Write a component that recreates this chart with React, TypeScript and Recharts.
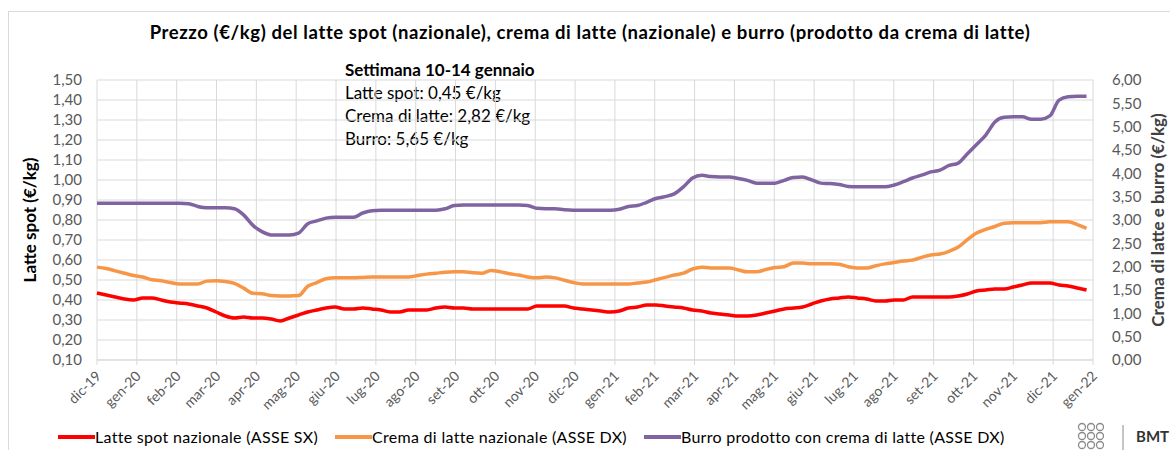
import { CartesianGrid, Line, LineChart, XAxis, YAxis } from "recharts";

const MONTHS = [
  "dic-19", "gen-20", "feb-20", "mar-20", "apr-20", "mag-20", "giu-20", "lug-20", "ago-20",
  "set-20", "ott-20", "nov-20", "dic-20", "gen-21", "feb-21", "mar-21", "apr-21", "mag-21",
  "giu-21", "lug-21", "ago-21", "set-21", "ott-21", "nov-21", "dic-21", "gen-22",
];

// weekly prices, first week of Dec 2019 -> 10-14 Jan 2022
const LATTE = [
  0.435, 0.425, 0.415, 0.405, 0.4, 0.41, 0.41, 0.4, 0.39, 0.385,
  0.38, 0.37, 0.36, 0.34, 0.32, 0.31, 0.315, 0.31, 0.31, 0.305,
  0.295, 0.31, 0.325, 0.34, 0.35, 0.36, 0.365, 0.355, 0.355, 0.36,
  0.355, 0.35, 0.34, 0.34, 0.35, 0.35, 0.35, 0.36, 0.365, 0.36,
  0.36, 0.355, 0.355, 0.355, 0.355, 0.355, 0.355, 0.355, 0.37, 0.37,
  0.37, 0.37, 0.36, 0.355, 0.35, 0.345, 0.34, 0.345, 0.36, 0.365,
  0.375, 0.375, 0.37, 0.365, 0.36, 0.35, 0.345, 0.335, 0.33, 0.325,
  0.32, 0.32, 0.325, 0.335, 0.345, 0.355, 0.36, 0.365, 0.38, 0.395,
  0.405, 0.41, 0.415, 0.41, 0.405, 0.395, 0.395, 0.4, 0.4, 0.415,
  0.415, 0.415, 0.415, 0.415, 0.42, 0.43, 0.445, 0.45, 0.455, 0.455,
  0.465, 0.475, 0.485, 0.485, 0.485, 0.475, 0.47, 0.46, 0.45,
];

const CREMA = [
  1.99, 1.96, 1.91, 1.86, 1.81, 1.78, 1.72, 1.7, 1.66, 1.63,
  1.63, 1.63, 1.69, 1.7, 1.68, 1.64, 1.54, 1.43, 1.42, 1.38,
  1.37, 1.37, 1.38, 1.58, 1.66, 1.74, 1.76, 1.76, 1.76, 1.77,
  1.78, 1.78, 1.78, 1.78, 1.78, 1.81, 1.84, 1.86, 1.88, 1.89,
  1.89, 1.87, 1.86, 1.92, 1.89, 1.85, 1.82, 1.78, 1.76, 1.78,
  1.76, 1.71, 1.66, 1.63, 1.63, 1.63, 1.63, 1.63, 1.63, 1.65,
  1.67, 1.72, 1.77, 1.82, 1.86, 1.95, 1.99, 1.97, 1.97, 1.97,
  1.93, 1.89, 1.89, 1.94, 1.98, 2.0, 2.08, 2.08, 2.06, 2.06,
  2.06, 2.05, 2.0, 1.97, 1.97, 2.02, 2.06, 2.09, 2.12, 2.14,
  2.2, 2.25, 2.27, 2.33, 2.42, 2.58, 2.72, 2.8, 2.86, 2.93,
  2.94, 2.94, 2.94, 2.94, 2.96, 2.96, 2.96, 2.9, 2.82,
];

const BURRO = [
  3.36, 3.36, 3.36, 3.36, 3.36, 3.36, 3.36, 3.36, 3.36, 3.36,
  3.35, 3.29, 3.26, 3.26, 3.26, 3.24, 3.11, 2.89, 2.75, 2.68,
  2.68, 2.68, 2.72, 2.92, 2.98, 3.04, 3.06, 3.06, 3.06, 3.15,
  3.2, 3.21, 3.21, 3.21, 3.21, 3.21, 3.21, 3.21, 3.24, 3.31,
  3.32, 3.32, 3.32, 3.32, 3.32, 3.32, 3.32, 3.31, 3.25, 3.24,
  3.24, 3.22, 3.21, 3.21, 3.21, 3.21, 3.21, 3.23, 3.29, 3.31,
  3.38, 3.46, 3.5, 3.56, 3.71, 3.9, 3.96, 3.93, 3.92, 3.92,
  3.89, 3.85, 3.79, 3.79, 3.79, 3.85, 3.91, 3.92, 3.86, 3.79,
  3.78, 3.76, 3.72, 3.71, 3.71, 3.71, 3.71, 3.75, 3.82, 3.9,
  3.96, 4.03, 4.07, 4.17, 4.22, 4.42, 4.62, 4.82, 5.1, 5.2,
  5.21, 5.21, 5.16, 5.16, 5.23, 5.57, 5.64, 5.65, 5.65,
];

const LEFT_TICKS = [0.1, 0.2, 0.3, 0.4, 0.5, 0.6, 0.7, 0.8, 0.9, 1.0, 1.1, 1.2, 1.3, 1.4, 1.5];
const RIGHT_TICKS = [0, 0.5, 1, 1.5, 2, 2.5, 3, 3.5, 4, 4.5, 5, 5.5, 6];

const WEEKS_PER_MONTH = 365.25 / 7 / 12;
const MONTH_TICKS = MONTHS.map((_, m) => m * WEEKS_PER_MONTH);

const data = LATTE.map((v, i) => ({ w: i, latte: v, crema: CREMA[i], burro: BURRO[i] }));

const FONT = "Lato, 'Open Sans', sans-serif";
const RED = "#ff0000";
const ORANGE = "#f79646";
const PURPLE = "#8064a2";

const fmt = (v: number) => v.toFixed(2).replace(".", ",");

function MonthTick(props: any) {
  const { x, y, index } = props;
  return (
    <text
      x={0}
      y={0}
      transform={`translate(${x + 5},${y + 10}) rotate(-45)`}
      textAnchor="end"
      fontSize={14}
      fontFamily={FONT}
      fill="#595959"
    >
      {MONTHS[index]}
    </text>
  );
}

function LegendRow() {
  const items = [
    { label: "Latte spot nazionale (ASSE SX)", color: RED },
    { label: "Crema di latte nazionale (ASSE DX)", color: ORANGE },
    { label: "Burro prodotto con crema di latte (ASSE DX)", color: PURPLE },
  ];
  return (
    <div
      style={{
        position: "absolute",
        left: 58,
        top: 427,
        display: "flex",
        gap: 17,
        fontFamily: FONT,
        fontSize: 16,
        letterSpacing: 0.3,
        color: "#000",
      }}
    >
      {items.map((it) => (
        <div key={it.label} style={{ display: "flex", alignItems: "center" }}>
          <span style={{ width: 37, height: 4, background: it.color, display: "inline-block" }} />
          <span>{it.label}</span>
        </div>
      ))}
    </div>
  );
}

export default function App() {
  return (
    <div
      style={{
        position: "absolute",
        left: 0,
        top: 0,
        width: 1170,
        height: 450,
        background: "#fff",
        overflow: "hidden",
        fontFamily: FONT,
      }}
    >
      <div
        style={{
          position: "absolute",
          left: 8,
          top: 11,
          width: 1200,
          height: 460,
          border: "1px solid #d9d9d9",
        }}
      />
      <div
        style={{
          position: "absolute",
          left: 0,
          width: 1180,
          top: 21,
          textAlign: "center",
          fontWeight: 700,
          fontSize: 18.5,
          letterSpacing: 0.6,
          color: "#000",
        }}
      >
        Prezzo (€/kg) del latte spot (nazionale), crema di latte (nazionale) e burro (prodotto da crema di latte)
      </div>
      <div
        style={{
          position: "absolute",
          left: 345,
          top: 58,
          fontSize: 17,
          color: "#000",
          lineHeight: "23px",
        }}
      >
        <div style={{ fontWeight: 700 }}>Settimana 10-14 gennaio</div>
        <div>Latte spot: 0,45 €/kg</div>
        <div>Crema di latte: 2,82 €/kg</div>
        <div>Burro: 5,65 €/kg</div>
      </div>

      <LineChart
        width={1170}
        height={450}
        data={data}
        margin={{ top: 80, right: 0, bottom: 0, left: 0 }}
        style={{ position: "absolute", left: 0, top: 0 }}
      >
        <CartesianGrid yAxisId="left" stroke="#d9d9d9" strokeWidth={1} />
        <XAxis
          dataKey="w"
          type="number"
          domain={[0, MONTH_TICKS[MONTH_TICKS.length - 1]]}
          ticks={MONTH_TICKS}
          interval={0}
          tick={<MonthTick />}
          tickSize={5}
          stroke="#d9d9d9"
          height={90}
        />
        <YAxis
          yAxisId="left"
          domain={[0.1, 1.5]}
          ticks={LEFT_TICKS}
          interval={0}
          tickFormatter={fmt}
          width={97}
          axisLine={false}
          tickLine={false}
          tickSize={0}
          tickMargin={15}
          tick={{ fontSize: 15, fill: "#595959", fontFamily: FONT }}
          label={{
            value: "Latte spot (€/kg)",
            angle: -90,
            position: "insideLeft",
            offset: 30,
            style: { textAnchor: "middle", fontWeight: 700, fontSize: 17, fill: "#000", fontFamily: FONT },
          }}
        />
        <YAxis
          yAxisId="right"
          orientation="right"
          domain={[0, 6]}
          ticks={RIGHT_TICKS}
          interval={0}
          tickFormatter={fmt}
          width={77}
          axisLine={false}
          tickLine={false}
          tickSize={0}
          tickMargin={19}
          tick={{ fontSize: 15, fill: "#595959", fontFamily: FONT, textAnchor: "start" }}
          label={{
            value: "Crema di latte e burro (€/kg)",
            angle: -90,
            position: "insideRight",
            offset: 12,
            style: { textAnchor: "middle", fontWeight: 700, fontSize: 17, fill: "#404040", fontFamily: FONT },
          }}
        />
        <Line
          yAxisId="left"
          dataKey="latte"
          type="monotone"
          stroke={RED}
          strokeWidth={3.5}
          dot={false}
          isAnimationActive={false}
        />
        <Line
          yAxisId="right"
          dataKey="crema"
          type="monotone"
          stroke={ORANGE}
          strokeWidth={3.5}
          dot={false}
          isAnimationActive={false}
        />
        <Line
          yAxisId="right"
          dataKey="burro"
          type="monotone"
          stroke={PURPLE}
          strokeWidth={3.5}
          dot={false}
          isAnimationActive={false}
        />
      </LineChart>

      <LegendRow />

      <svg style={{ position: "absolute", left: 1070, top: 421 }} width={100} height={30}>
        {[0, 1, 2].map((r) =>
          [0, 1, 2].map((c) => (
            <circle
              key={`${r}-${c}`}
              cx={12 + c * 9}
              cy={6 + r * 9}
              r={3.5}
              fill="none"
              stroke="#8a8a8a"
              strokeWidth={1.3}
            />
          ))
        )}
        <line x1={53} y1={4} x2={53} y2={30} stroke="#8a8a8a" strokeWidth={1} />
        <text x={66} y={21} fontSize={15} fontWeight={700} fill="#333" fontFamily={FONT}>
          BMT
        </text>
      </svg>
    </div>
  );
}
